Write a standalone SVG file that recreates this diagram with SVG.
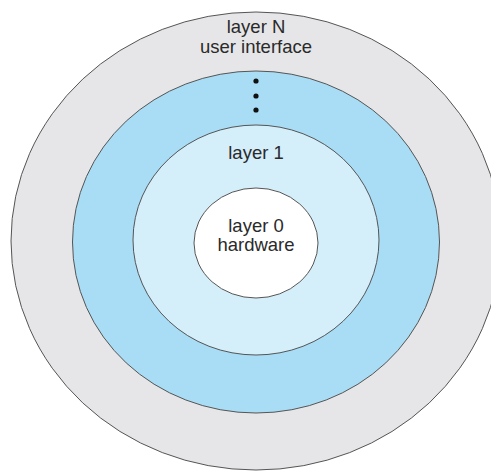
<svg xmlns="http://www.w3.org/2000/svg" width="491" height="474" viewBox="0 0 491 474">
<style>
.ring{stroke:#555;stroke-width:1}
.t{font-family:"Liberation Sans",Arial,sans-serif;font-size:18.5px;fill:#2a2a2a;text-anchor:middle}
</style>
<rect width="491" height="474" fill="#fff"/>
<g id="layerN">
<ellipse class="ring" cx="256" cy="241" rx="245" ry="229" fill="#e6e6e8"/>
<text class="t" x="256" y="33">layer N</text>
<text class="t" x="256" y="53">user interface</text>
</g>
<g id="layerMid">
<ellipse class="ring" cx="256" cy="242" rx="183.5" ry="171" fill="#a9ddf5"/>
<circle cx="256" cy="81" r="2.6" fill="#111"/>
<circle cx="256" cy="96" r="2.6" fill="#111"/>
<circle cx="256" cy="110" r="2.6" fill="#111"/>
</g>
<g id="layer1">
<ellipse class="ring" cx="256" cy="240" rx="123" ry="115" fill="#d4eefa"/>
<text class="t" x="256" y="159">layer 1</text>
</g>
<g id="layer0">
<ellipse class="ring" cx="256" cy="243" rx="62" ry="55" fill="#fff"/>
<text class="t" x="256" y="232">layer 0</text>
<text class="t" x="256" y="251">hardware</text>
</g>
<g id="connectors"/>
</svg>
